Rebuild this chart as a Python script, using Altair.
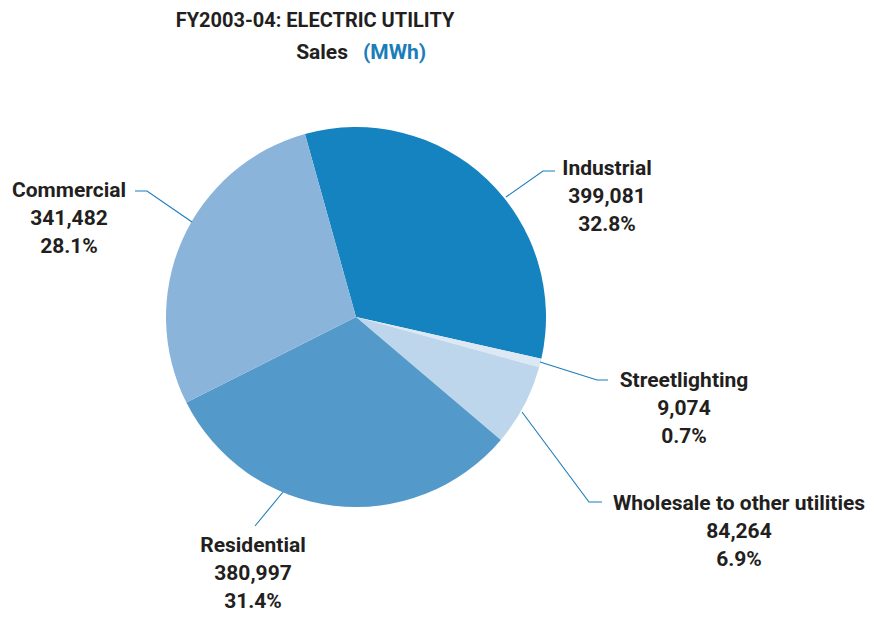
import altair as alt
import pandas as pd

# ---------------- data ----------------
categories = ["Industrial", "Streetlighting", "Wholesale to other utilities",
              "Residential", "Commercial"]
sales_mwh = [399081, 9074, 84264, 380997, 341482]
slice_colors = ["#1483BF", "#DCE8F3", "#BED6EB", "#5399C9", "#8AB4D9"]

title_line1 = "FY2003-04: ELECTRIC UTILITY"
title_sales = "Sales"
title_unit = "(MWh)"

# ---------------- layout (pixels inside the plot area) ----------------
W, H = 858, 605
CX, CY, R = 348, 309, 190
START = -0.272  # radians, clockwise from 12 o'clock
FONT = "Roboto, Liberation Sans Narrow, sans-serif"
FS = 21
LINE_H = 28
TEXT_C = "#231F20"
LEADER_C = "#1A7DBA"

# centre of the first line of each label
label_pos = [(599, 161), (676, 373), (731, 496), (245, 538), (61, 183)]
leader_pts = [
    [(498, 189), (535, 163), (547, 163)],
    [(532, 354), (589, 372), (600, 372)],
    [(514, 404), (581, 494), (594, 494)],
    [(275, 484), (247, 518)],
    [(184, 214), (139, 183), (127, 183)],
]

pie_df = pd.DataFrame({"category": categories, "sales": sales_mwh,
                       "idx": list(range(len(categories)))})
pie_df["lx"] = [p[0] for p in label_pos]
pie_df["ly"] = [p[1] for p in label_pos]

rows = []
for cat, pts in zip(categories, leader_pts):
    for k, (x, y) in enumerate(pts):
        rows.append({"category": cat, "k": k, "x": x, "y": y})
leader_df = pd.DataFrame(rows)

xs = alt.Scale(domain=[0, W], range=[0, W], nice=False, zero=False)
ys = alt.Scale(domain=[0, H], range=[0, H], nice=False, zero=False)

pie = alt.Chart(pie_df).mark_arc(outerRadius=R, stroke=None).encode(
    theta=alt.Theta("sales:Q", stack=True,
                    scale=alt.Scale(range=[START, START + 2 * 3.141592653589793])),
    order=alt.Order("idx:Q"),
    color=alt.Color("category:N", legend=None,
                    scale=alt.Scale(domain=categories, range=slice_colors)),
    x=alt.value(CX),
    y=alt.value(CY),
)

leaders = alt.Chart(leader_df).mark_line(color=LEADER_C, strokeWidth=1.1).encode(
    x=alt.X("x:Q", scale=xs, axis=None),
    y=alt.Y("y:Q", scale=ys, axis=None),
    detail="category:N",
    order="k:Q",
)

labels = alt.Chart(pie_df).transform_joinaggregate(
    total="sum(sales)"
).transform_calculate(
    label="datum.category + '\\n' + format(datum.sales, ',') + '\\n' + format(datum.sales / datum.total, '.1%')"
).mark_text(
    font=FONT, fontSize=FS, fontWeight="bold", color=TEXT_C,
    lineBreak="\n", lineHeight=LINE_H, align="center", baseline="middle",
).encode(
    x=alt.X("lx:Q", scale=xs, axis=None),
    y=alt.Y("ly:Q", scale=ys, axis=None),
    text="label:N",
)

title_df = pd.DataFrame({"t1": [title_line1], "t2": [title_sales], "t3": [title_unit]})
t1 = alt.Chart(title_df).mark_text(font=FONT, fontSize=20, fontWeight="bold",
                                   color=TEXT_C, align="center", baseline="middle").encode(
    x=alt.value(307), y=alt.value(13), text="t1:N")
t2 = alt.Chart(title_df).mark_text(font=FONT, fontSize=FS, fontWeight="bold",
                                   color=TEXT_C, align="right", baseline="middle").encode(
    x=alt.value(340), y=alt.value(45), text="t2:N")
t3 = alt.Chart(title_df).mark_text(font=FONT, fontSize=FS, fontWeight="bold",
                                   color="#1A7DBA", align="left", baseline="middle").encode(
    x=alt.value(355), y=alt.value(45), text="t3:N")

chart = alt.layer(pie, leaders, labels, t1, t2, t3).properties(
    width=W, height=H, padding=0, background="white",
    autosize=alt.AutoSizeParams(type="none"),
).configure_view(stroke=None)

chart.save("out.html", embed_options={"renderer": "svg", "actions": False})
